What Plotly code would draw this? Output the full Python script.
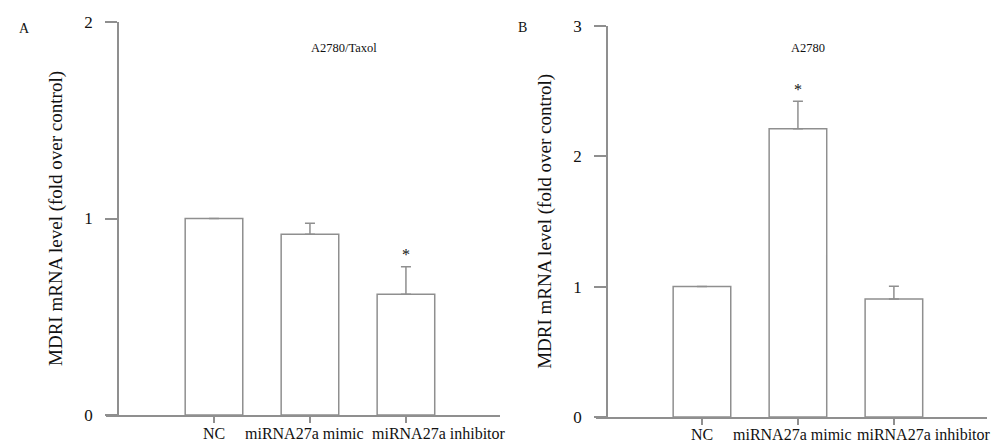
import plotly.graph_objects as go

categories = ["NC", "miRNA27a mimic", "miRNA27a inhibitor"]
a_values = [1.0, 0.92, 0.615]
a_errors = [0.0, 0.056, 0.14]
a_sig = [False, False, True]
b_values = [1.0, 2.21, 0.905]
b_errors = [0.0, 0.21, 0.097]
b_sig = [False, True, False]
a_title = "A2780/Taxol"
b_title = "A2780"
y_title = "MDRI mRNA level (fold over control)"

W, H = 1002, 446
OFF = 8  # page body margin
LINE = "#8f8f8f"
TXT = "#111111"
FONT = "Liberation Serif"

def px(x):
    return (x - OFF) / W

def py(y):
    return (H - (y - OFF)) / H

fig = go.Figure()
pos = [0, 1, 2]

for vals, errs, xa, ya in [(a_values, a_errors, "x", "y"), (b_values, b_errors, "x2", "y2")]:
    fig.add_trace(go.Bar(
        x=pos, y=vals, width=0.6, xaxis=xa, yaxis=ya,
        marker=dict(color="white", line=dict(color=LINE, width=1.5)),
        error_y=dict(type="data", array=errs, arrayminus=[0] * len(errs), symmetric=False,
                     color=LINE, thickness=1.5, width=5),
        showlegend=False, hoverinfo="skip",
    ))

annotations = []
for vals, errs, sig, xr, yr in [(a_values, a_errors, a_sig, "x", "y"), (b_values, b_errors, b_sig, "x2", "y2")]:
    for i, (v, e, s) in enumerate(zip(vals, errs, sig)):
        if s:
            annotations.append(dict(x=pos[i], y=v + e, xref=xr, yref=yr, text="*", showarrow=False,
                                    yshift=12, font=dict(family=FONT, size=16, color=TXT)))

# category labels (shifted sideways like the original to avoid overlap)
label_shift_a = [0, -5, 33]
label_shift_b = [0, -5, 30]
for xr, shifts, ylab in [("x", label_shift_a, 433), ("x2", label_shift_b, 434)]:
    for i, c in enumerate(categories):
        annotations.append(dict(x=pos[i], y=py(ylab), xref=xr, yref="paper", text=c,
                                showarrow=False, xshift=shifts[i], yanchor="middle",
                                font=dict(family=FONT, size=16, color=TXT)))

# panel titles and letters
annotations += [
    dict(x=px(309), y=py(39), xref="paper", yref="paper", text=a_title, showarrow=False,
         font=dict(family=FONT, size=12.5, color=TXT)),
    dict(x=px(827), y=py(39), xref="paper", yref="paper", text=b_title, showarrow=False,
         font=dict(family=FONT, size=12.5, color=TXT)),
    dict(x=px(17), y=py(19), xref="paper", yref="paper", text="A", showarrow=False,
         font=dict(family=FONT, size=14, color=TXT)),
    dict(x=px(522), y=py(18), xref="paper", yref="paper", text="B", showarrow=False,
         font=dict(family=FONT, size=14, color=TXT)),
]

xcommon = dict(tickmode="array", tickvals=pos, showticklabels=False, showline=True, linecolor=LINE,
               linewidth=1.5, ticks="outside", ticklen=6, tickcolor=LINE, tickwidth=1.5,
               showgrid=False, zeroline=False, automargin=False)
ycommon = dict(showline=True, linecolor=LINE, linewidth=1.5, ticks="outside", ticklen=12,
               tickcolor=LINE, tickwidth=1.5, showgrid=False, zeroline=False, dtick=1,
               automargin=False, ticklabelstandoff=9,
               tickfont=dict(family=FONT, size=17, color=TXT),
               title=dict(text=y_title, font=dict(family=FONT, size=19, color=TXT), standoff=16),
               anchor="free")

fig.update_layout(
    width=W, height=H, margin=dict(l=0, r=0, t=0, b=0, autoexpand=False),
    paper_bgcolor="white", plot_bgcolor="rgba(0,0,0,0)",
    xaxis=dict(domain=[px(106), px(500)], range=[-1.125, 2.98], anchor="y", **xcommon),
    yaxis=dict(domain=[py(415), py(22)], range=[0, 2], position=px(118), **ycommon),
    xaxis2=dict(domain=[px(596), px(987)], range=[-1.104, 2.97], anchor="y2", **xcommon),
    yaxis2=dict(domain=[py(417), py(25.7)], range=[0, 3], position=px(607), **ycommon),
    annotations=annotations,
)

fig.write_html("out.html")
